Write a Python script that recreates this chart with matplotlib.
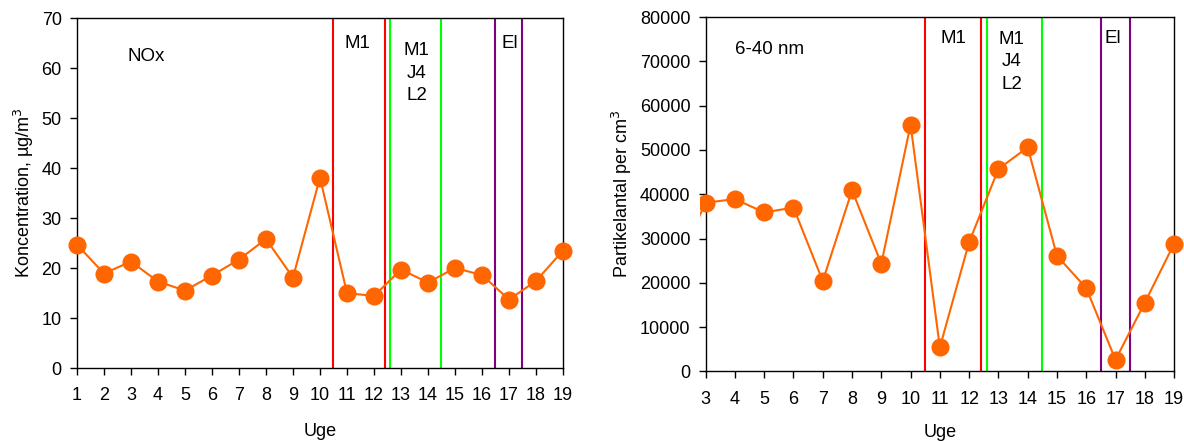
import matplotlib
matplotlib.use("Agg")
import matplotlib.pyplot as plt
from matplotlib.patches import Rectangle

plt.rcParams['font.family'] = ['Liberation Sans', 'DejaVu Sans']

# Left panel: NOx
weeks_nox = list(range(1, 20))
nox = [24.7, 18.9, 21.3, 17.3, 15.5, 18.5, 21.7, 25.8, 18.1, 38.1,
       15.0, 14.4, 19.7, 17.1, 20.0, 18.6, 13.7, 17.4, 23.5]

# Right panel: 6-40 nm particles
weeks_part = list(range(2, 20))
particles = [24000, 38100, 38900, 35900, 37000, 20400, 40900, 24300, 55700,
             5400, 29200, 45700, 50600, 26100, 18800, 2600, 15500, 28800]

event_lines = [10.5, 12.4, 12.6, 14.5, 16.5, 17.5]
event_colors = ['#FF0000', '#FF0000', '#00FF00', '#00FF00', '#800080', '#800080']

orange = '#FF6600'
fs = 13
fa = 13.5

fig = plt.figure(figsize=(11.84, 4.41), dpi=100)
ax1 = fig.add_axes([0.065, 0.1655, 0.4105, 0.7935])
ax2 = fig.add_axes([0.596, 0.158, 0.3956, 0.803])

def style(ax):
    for s in ax.spines.values():
        s.set_linewidth(1.0)
        s.set_color('black')
    ax.tick_params(direction='out', length=5, width=1, labelsize=fs, colors='black')
    ax.tick_params(axis='x', pad=9)
    ax.tick_params(axis='y', pad=6)

# Left
for x, c in zip(event_lines, event_colors):
    ax1.axvline(x, color=c, lw=1.5, zorder=1)
ax1.plot(weeks_nox, nox, color=orange, lw=1.5, marker='o', markersize=12,
         markeredgecolor=orange, markerfacecolor=orange, zorder=3, clip_on=False)
ax1.set_xlim(1, 19)
ax1.set_ylim(0, 70)
ax1.set_xticks(weeks_nox)
ax1.set_yticks(range(0, 71, 10))
ax1.set_xlabel('Uge', fontsize=fs, labelpad=13)
ax1.set_ylabel('Koncentration, µg/m$^3$', fontsize=fs)
style(ax1)
ax1.text(3.56, 62.3, 'NOx', fontsize=fa, ha='center', va='center')
ax1.text(11.4, 65, 'M1', fontsize=fa, ha='center', va='center')
ax1.text(13.58, 59, 'M1\nJ4\nL2', fontsize=fa, ha='center', va='center', linespacing=1.4)
ax1.text(17.03, 65, 'El', fontsize=fa, ha='center', va='center')

# Right
for x, c in zip(event_lines, event_colors):
    ax2.axvline(x, color=c, lw=1.5, zorder=1)
ln, = ax2.plot(weeks_part, particles, color=orange, lw=1.5, marker='o', markersize=12,
               markeredgecolor=orange, markerfacecolor=orange, zorder=3)
ax2.set_xlim(3, 19)
ax2.set_ylim(0, 80000)
ln.set_clip_path(Rectangle((-0.013, -0.05), 1.06, 1.1, transform=ax2.transAxes))
ax2.set_xticks(range(3, 20))
ax2.set_yticks(range(0, 80001, 10000))
ax2.set_xlabel('Uge', fontsize=fs, labelpad=12)
ax2.set_ylabel('Partikelantal per cm$^3$', fontsize=fs)
style(ax2)
ax2.text(5.19, 72600, '6-40 nm', fontsize=fa, ha='center', va='center')
ax2.text(11.45, 75100, 'M1', fontsize=fa, ha='center', va='center')
ax2.text(13.46, 69900, 'M1\nJ4\nL2', fontsize=fa, ha='center', va='center', linespacing=1.4)
ax2.text(16.9, 75100, 'El', fontsize=fa, ha='center', va='center')

fig.savefig('out.png', dpi=100)
